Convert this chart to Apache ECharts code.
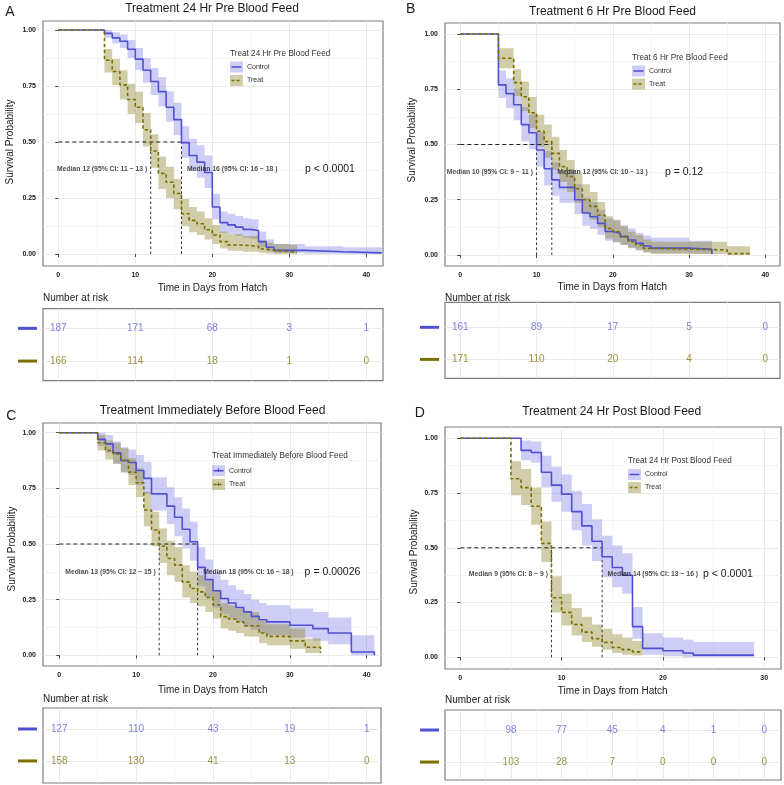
<!DOCTYPE html>
<html><head><meta charset="utf-8">
<script src="https://cdn.jsdelivr.net/npm/echarts@6/dist/echarts.min.js"></script>
<style>html,body{margin:0;padding:0;background:#fff}#c{width:784px;height:785px}</style>
</head><body><div id="c"></div>
<script>
// ---------------- DATA ----------------
// Panel A
const A_title = 'Treatment 24 Hr Pre Blood Feed';
const A_legendTitle = 'Treat 24 Hr Pre Blood Feed';
const A_ctrlTime = [0, 6, 7, 8, 9, 10, 11, 12, 13, 14, 15, 16, 17, 18, 19, 20, 21, 22, 23, 24, 25, 26, 27, 28, 32, 37, 42];
const A_ctrlSurv = [1, 0.985, 0.965, 0.95, 0.914, 0.87, 0.82, 0.77, 0.725, 0.655, 0.60, 0.497, 0.44, 0.41, 0.364, 0.21, 0.14, 0.13, 0.12, 0.11, 0.105, 0.055, 0.03, 0.016, 0.01, 0.005, 0.005];
const A_ctrlLo   = [1, 0.965, 0.94, 0.92, 0.875, 0.82, 0.765, 0.71, 0.66, 0.59, 0.53, 0.43, 0.37, 0.34, 0.295, 0.155, 0.095, 0.088, 0.08, 0.072, 0.068, 0.03, 0.012, 0.004, 0.001, 0, 0];
const A_ctrlHi   = [1, 1, 0.99, 0.98, 0.955, 0.92, 0.875, 0.83, 0.79, 0.725, 0.675, 0.57, 0.515, 0.485, 0.44, 0.27, 0.19, 0.18, 0.17, 0.16, 0.155, 0.1, 0.065, 0.045, 0.035, 0.03, 0.03];
const A_trtTime  = [0, 6, 7, 8, 9, 10, 11, 12, 13, 14, 15, 16, 17, 18, 19, 20, 21, 22, 24, 26, 27, 28, 30, 31];
const A_trtSurv  = [1, 0.865, 0.815, 0.755, 0.69, 0.655, 0.555, 0.46, 0.36, 0.32, 0.27, 0.18, 0.15, 0.135, 0.108, 0.085, 0.055, 0.04, 0.034, 0.022, 0.016, 0.012, 0.006, 0.006];
const A_trtLo    = [1, 0.81, 0.755, 0.69, 0.625, 0.585, 0.48, 0.385, 0.29, 0.25, 0.2, 0.125, 0.097, 0.085, 0.065, 0.045, 0.025, 0.015, 0.01, 0.005, 0.002, 0, 0, 0];
const A_trtHi    = [1, 0.915, 0.87, 0.82, 0.76, 0.725, 0.63, 0.535, 0.435, 0.39, 0.335, 0.245, 0.21, 0.19, 0.16, 0.13, 0.1, 0.088, 0.08, 0.06, 0.05, 0.045, 0.04, 0.04];
const A_median = [16, 12];            // control, treat
const A_medianCI = [[16, 18], [11, 13]];
const A_pText = 'p < 0.0001';
const A_riskTimes = [0, 10, 20, 30, 40];
const A_riskCtrl = [187, 171, 68, 3, 1];
const A_riskTrt  = [166, 114, 18, 1, 0];

// Panel B
const B_title = 'Treatment 6 Hr Pre Blood Feed';
const B_legendTitle = 'Treat 6 Hr Pre Blood Feed';
const B_ctrlTime = [0, 5, 6, 7, 8, 9, 10, 11, 12, 13, 15, 16, 17, 18, 19, 20, 21, 22, 23, 24, 25, 30, 33];
const B_ctrlSurv = [1, 0.77, 0.73, 0.68, 0.59, 0.553, 0.475, 0.39, 0.34, 0.306, 0.25, 0.19, 0.173, 0.143, 0.106, 0.098, 0.083, 0.068, 0.053, 0.041, 0.031, 0.026, 0.005];
const B_ctrlLo   = [1, 0.71, 0.665, 0.61, 0.515, 0.478, 0.4, 0.315, 0.268, 0.236, 0.185, 0.132, 0.118, 0.092, 0.064, 0.057, 0.045, 0.034, 0.024, 0.015, 0.01, 0.007, 0];
const B_ctrlHi   = [1, 0.835, 0.8, 0.752, 0.67, 0.635, 0.555, 0.47, 0.42, 0.385, 0.32, 0.26, 0.24, 0.205, 0.165, 0.155, 0.135, 0.12, 0.1, 0.088, 0.078, 0.065, 0.065];
const B_trtTime  = [0, 5, 7, 8, 9, 10, 11, 12, 13, 14, 15, 16, 17, 18, 19, 20, 21, 22, 23, 24, 25, 35, 38];
const B_trtSurv  = [1, 0.89, 0.78, 0.716, 0.643, 0.56, 0.513, 0.46, 0.4, 0.355, 0.3, 0.25, 0.22, 0.18, 0.12, 0.105, 0.083, 0.06, 0.045, 0.03, 0.023, 0.006, 0.006];
const B_trtLo    = [1, 0.845, 0.72, 0.65, 0.575, 0.49, 0.44, 0.385, 0.33, 0.285, 0.235, 0.19, 0.16, 0.125, 0.075, 0.06, 0.045, 0.03, 0.02, 0.01, 0.005, 0, 0];
const B_trtHi    = [1, 0.935, 0.84, 0.785, 0.715, 0.635, 0.59, 0.535, 0.475, 0.43, 0.37, 0.32, 0.285, 0.24, 0.175, 0.16, 0.13, 0.105, 0.09, 0.07, 0.06, 0.04, 0.04];
const B_median = [10, 12];
const B_medianCI = [[9, 11], [10, 13]];
const B_pText = 'p = 0.12';
const B_riskTimes = [0, 10, 20, 30, 40];
const B_riskCtrl = [161, 89, 17, 5, 0];
const B_riskTrt  = [171, 110, 20, 4, 0];

// Panel C
const C_title = 'Treatment Immediately Before Blood Feed';
const C_legendTitle = 'Treat Immediately Before Blood Feed';
const C_ctrlTime = [0, 5, 6, 7, 8, 9, 10, 11, 12, 14, 15, 16, 17, 18, 19, 20, 21, 22, 23, 24, 25, 26, 27, 30, 33, 35, 38, 41];
const C_ctrlSurv = [1, 0.97, 0.95, 0.91, 0.875, 0.866, 0.83, 0.795, 0.725, 0.67, 0.62, 0.566, 0.51, 0.395, 0.34, 0.29, 0.255, 0.235, 0.215, 0.195, 0.175, 0.16, 0.15, 0.135, 0.12, 0.1, 0.015, 0];
const C_ctrlLo   = [1, 0.94, 0.91, 0.86, 0.82, 0.81, 0.765, 0.725, 0.65, 0.59, 0.535, 0.48, 0.425, 0.31, 0.26, 0.215, 0.185, 0.165, 0.15, 0.13, 0.115, 0.1, 0.09, 0.08, 0.065, 0.05, 0, 0];
const C_ctrlHi   = [1, 1, 0.99, 0.96, 0.935, 0.925, 0.9, 0.87, 0.8, 0.755, 0.71, 0.66, 0.6, 0.485, 0.43, 0.375, 0.34, 0.315, 0.295, 0.275, 0.25, 0.235, 0.225, 0.21, 0.195, 0.17, 0.09, 0.09];
const C_trtTime  = [0, 5, 6, 7, 8, 9, 10, 11, 12, 13, 14, 15, 16, 17, 18, 19, 20, 21, 22, 23, 24, 26, 27, 30, 32, 34];
const C_trtSurv  = [1, 0.955, 0.92, 0.905, 0.875, 0.823, 0.775, 0.653, 0.563, 0.49, 0.435, 0.405, 0.33, 0.3, 0.285, 0.26, 0.226, 0.174, 0.163, 0.15, 0.133, 0.1, 0.085, 0.065, 0.036, 0.01];
const C_trtLo    = [1, 0.92, 0.88, 0.86, 0.825, 0.765, 0.71, 0.58, 0.49, 0.415, 0.36, 0.33, 0.26, 0.235, 0.22, 0.195, 0.165, 0.12, 0.11, 0.1, 0.085, 0.055, 0.045, 0.03, 0.01, 0];
const C_trtHi    = [1, 0.99, 0.965, 0.955, 0.93, 0.885, 0.84, 0.735, 0.645, 0.57, 0.515, 0.485, 0.405, 0.375, 0.36, 0.335, 0.295, 0.235, 0.225, 0.21, 0.195, 0.155, 0.14, 0.12, 0.075, 0.075];
const C_median = [18, 13];
const C_medianCI = [[16, 18], [12, 15]];
const C_pText = 'p = 0.00026';
const C_riskTimes = [0, 10, 20, 30, 40];
const C_riskCtrl = [127, 110, 43, 19, 1];
const C_riskTrt  = [158, 130, 41, 13, 0];

// Panel D
const D_title = 'Treatment 24 Hr Post Blood Feed';
const D_legendTitle = 'Treat 24 Hr Post Blood Feed';
const D_ctrlTime = [0, 6, 7, 8, 9, 10, 11, 12, 13, 14, 15, 16, 17, 18, 20, 22, 23, 29];
const D_ctrlSurv = [1, 0.945, 0.935, 0.845, 0.786, 0.745, 0.665, 0.6, 0.53, 0.459, 0.41, 0.375, 0.14, 0.041, 0.03, 0.02, 0.01, 0.01];
const D_ctrlLo   = [1, 0.9, 0.89, 0.775, 0.71, 0.665, 0.58, 0.51, 0.44, 0.365, 0.32, 0.29, 0.085, 0.012, 0.005, 0, 0, 0];
const D_ctrlHi   = [1, 0.99, 0.985, 0.92, 0.87, 0.835, 0.76, 0.7, 0.63, 0.555, 0.51, 0.475, 0.23, 0.11, 0.09, 0.08, 0.07, 0.07];
const D_trtTime  = [0, 5, 6, 7, 8, 9, 10, 11, 12, 13, 14, 15, 16, 17, 18];
const D_trtSurv  = [1, 0.815, 0.775, 0.69, 0.52, 0.272, 0.205, 0.15, 0.115, 0.085, 0.068, 0.045, 0.035, 0.025, 0.025];
const D_trtLo    = [1, 0.74, 0.695, 0.605, 0.435, 0.205, 0.145, 0.1, 0.07, 0.048, 0.035, 0.02, 0.012, 0.008, 0.008];
const D_trtHi    = [1, 0.895, 0.86, 0.775, 0.62, 0.37, 0.29, 0.225, 0.185, 0.15, 0.13, 0.105, 0.09, 0.075, 0.075];
const D_median = [14, 9];
const D_medianCI = [[13, 16], [8, 9]];
const D_pText = 'p < 0.0001';
const D_riskTimes = [5, 10, 15, 20, 25, 30];
const D_riskCtrl = [98, 77, 45, 4, 1, 0];
const D_riskTrt  = [103, 28, 7, 0, 0, 0];

const groupNames = ['Control', 'Treat'];
const yTicks = [0, 0.25, 0.5, 0.75, 1];
const yMinorTicks = [0.125, 0.375, 0.625, 0.875];

// ---------------- STYLE / LAYOUT ----------------
const FONT = '"Liberation Sans", Arial, Helvetica, sans-serif';
const BLUE = '#5050d2', OLIVE = '#7a7000';
const BLUE_FILL = 'rgba(88,88,225,0.30)', OLIVE_FILL = 'rgba(135,124,25,0.38)';
const BLUE_TXT = '#5f5fd6', OLIVE_TXT = '#837810';
const MAJ = '#e5e5e5', MIN = '#f2f2f2';

const LAYOUT = {
  A: {plot:[43,21,340,245], x:[-1.987,42.17], y:[-0.0536,1.0402], xMaj:[0,10,20,30,40], xMin:[5,15,25,35],
      table:[43,308.7,340,72], tY:[0.4,2.6], tMaj:[0,10,20,30,40], tMin:[5,15,25,35],
      legend:[230,53.3,67,80.5], title:[212,8.7], letter:[10,11.7], yTitle:[10,142], xTitle:[212.5,288],
      nar:[43,298.3], p:[330,169], medY:0.38},
  B: {plot:[445,23,335,243], x:[-2.007,41.93], y:[-0.0498,1.0498], xMaj:[0,10,20,30,40], xMin:[5,15,25,35],
      table:[445,302.3,335,76], tY:[0.22,2.59], tMaj:[0,10,20,30,40], tMin:[5,15,25,35],
      legend:[632,57.3,71,84], title:[612.5,11.7], letter:[410.7,9.3], yTitle:[412,140], xTitle:[612.3,287.3],
      nar:[445,298.3], p:[684,172], medY:0.376},
  C: {plot:[43,423,338,243], x:[-2.12,41.86], y:[-0.048,1.0436], xMaj:[0,10,20,30,40], xMin:[5,15,25,35],
      table:[43,708,338,75], tY:[0.344,2.69], tMaj:[0,10,20,30,40], tMin:[5,15,25,35],
      legend:[212,456,470.7,484.5], title:[212.5,410.3], letter:[11.3,416], yTitle:[12,549], xTitle:[212.8,690.7],
      nar:[43,699], p:[332.5,571.7], medY:0.375},
  D: {plot:[445,427,336,242], x:[-1.51,31.66], y:[-0.0534,1.0516], xMaj:[0,10,20,30], xMin:[5,15,25],
      table:[445,710,336,70], tY:[0.375,2.56], tMaj:[0,5,10,15,20,25,30], tMin:[2.5,7.5,12.5,17.5,22.5,27.5],
      legend:[628,460.7,474.5,487.5], title:[611.7,411.7], letter:[419.7,413], yTitle:[414,552], xTitle:[612.7,691.7],
      nar:[445,700.7], p:[728,574.3], medY:0.379}
};

const panels = [
  {id:'A', L:LAYOUT.A, title:A_title, legendTitle:A_legendTitle,
   ctrl:{t:A_ctrlTime,s:A_ctrlSurv,lo:A_ctrlLo,hi:A_ctrlHi}, trt:{t:A_trtTime,s:A_trtSurv,lo:A_trtLo,hi:A_trtHi},
   med:A_median, ci:A_medianCI, p:A_pText, rT:A_riskTimes, rC:A_riskCtrl, rR:A_riskTrt, plus:false},
  {id:'B', L:LAYOUT.B, title:B_title, legendTitle:B_legendTitle,
   ctrl:{t:B_ctrlTime,s:B_ctrlSurv,lo:B_ctrlLo,hi:B_ctrlHi}, trt:{t:B_trtTime,s:B_trtSurv,lo:B_trtLo,hi:B_trtHi},
   med:B_median, ci:B_medianCI, p:B_pText, rT:B_riskTimes, rC:B_riskCtrl, rR:B_riskTrt, plus:false},
  {id:'C', L:LAYOUT.C, title:C_title, legendTitle:C_legendTitle,
   ctrl:{t:C_ctrlTime,s:C_ctrlSurv,lo:C_ctrlLo,hi:C_ctrlHi}, trt:{t:C_trtTime,s:C_trtSurv,lo:C_trtLo,hi:C_trtHi},
   med:C_median, ci:C_medianCI, p:C_pText, rT:C_riskTimes, rC:C_riskCtrl, rR:C_riskTrt, plus:true},
  {id:'D', L:LAYOUT.D, title:D_title, legendTitle:D_legendTitle,
   ctrl:{t:D_ctrlTime,s:D_ctrlSurv,lo:D_ctrlLo,hi:D_ctrlHi}, trt:{t:D_trtTime,s:D_trtSurv,lo:D_trtLo,hi:D_trtHi},
   med:D_median, ci:D_medianCI, p:D_pText, rT:D_riskTimes, rC:D_riskCtrl, rR:D_riskTrt, plus:false}
];

// ---------------- BUILD ----------------
const grids = [], xAxes = [], yAxes = [], series = [], graphics = [];

function valAxis(gridIndex, range, ticks, withLabels, splitColor, extra) {
  return Object.assign({
    type:'value', gridIndex, min:range[0], max:range[1], position:'bottom',
    axisLine:{show:false},
    axisTick:{show:withLabels, customValues:ticks, length:3, lineStyle:{color:'#444', width:1}},
    axisLabel:{show:withLabels, customValues:ticks, margin:6, fontSize:7, fontWeight:'bold', color:'#1a1a1a', fontFamily:FONT},
    splitLine:{show:true, lineStyle:{color:splitColor, width:0.8}},
    minorSplitLine:{show:false}
  }, extra || {});
}

function text(x, y, str, size, o) {
  o = o || {};
  return {type:'text', x, y, rotation:o.rot || 0, silent:true, z:200,
    style:{text:str, fontSize:size, fontFamily:FONT, fill:o.color || '#1a1a1a', fontWeight:o.weight || 'normal',
           align:o.align || 'left', verticalAlign:'middle'}};
}

function bandSeries(xi, yi, c, fill) {
  return {
    type:'custom', xAxisIndex:xi, yAxisIndex:yi, silent:true, z:1, animation:false,
    data:[[c.t[0], c.s[0]]],
    renderItem(params, api) {
      const pts = [];
      for (let i = 0; i < c.t.length - 1; i++) {
        pts.push(api.coord([c.t[i], c.hi[i]]));
        pts.push(api.coord([c.t[i + 1], c.hi[i]]));
      }
      for (let i = c.t.length - 2; i >= 0; i--) {
        pts.push(api.coord([c.t[i + 1], c.lo[i]]));
        pts.push(api.coord([c.t[i], c.lo[i]]));
      }
      return {type:'polygon', shape:{points:pts}, style:{fill:fill, stroke:null}};
    }
  };
}

function curveSeries(xi, yi, c, color, dashed) {
  return {
    type:'line', xAxisIndex:xi, yAxisIndex:yi, step:'end', silent:true, animation:false, z:5,
    symbol:'none', showSymbol:false,
    data:c.t.map((x, i) => [x, c.s[i]]),
    lineStyle:{color, width:1.6, type: dashed ? [3.5, 2.5] : 'solid'}
  };
}

panels.forEach(P => {
  const L = P.L;
  const gPlot = grids.length;
  grids.push({left:L.plot[0], top:L.plot[1], width:L.plot[2], height:L.plot[3], show:true,
              backgroundColor:'#fff', borderColor:'#7c7c7c', borderWidth:1.2, containLabel:false});
  const gTab = grids.length;
  grids.push({left:L.table[0], top:L.table[1], width:L.table[2], height:L.table[3], show:true,
              backgroundColor:'#fff', borderColor:'#7c7c7c', borderWidth:1.2, containLabel:false});

  const xi = xAxes.length;
  xAxes.push(valAxis(gPlot, L.x, L.xMaj, true, MAJ));
  xAxes.push(valAxis(gPlot, L.x, L.xMin, false, MIN));
  const xt = xAxes.length;
  xAxes.push(valAxis(gTab, L.x, L.tMaj, false, MAJ));
  xAxes.push(valAxis(gTab, L.x, L.tMin, false, MIN));

  const yi = yAxes.length;
  yAxes.push(valAxis(gPlot, L.y, yTicks, true, MAJ, {position:'left',
     axisLabel:{show:true, customValues:yTicks, margin:7, fontSize:7, fontWeight:'bold', color:'#1a1a1a', fontFamily:FONT,
                formatter:v => v.toFixed(2)}}));
  yAxes.push(valAxis(gPlot, L.y, yMinorTicks, false, MIN, {position:'left'}));
  const yt = yAxes.length;
  yAxes.push(valAxis(gTab, L.tY, [1, 2], false, MAJ, {position:'left', inverse:true,
     axisLabel:{show:true, customValues:[1, 2], margin:6,
       formatter:v => v === 1 ? '{c|}' : '{t|}',
       rich:{c:{width:19, height:3, backgroundColor:BLUE}, t:{width:19, height:3, backgroundColor:OLIVE}}}}));

  // CI bands
  series.push(bandSeries(xi, yi, P.ctrl, BLUE_FILL));
  series.push(bandSeries(xi, yi, P.trt, OLIVE_FILL));

  // median reference lines
  const mMax = Math.max(P.med[0], P.med[1]);
  series.push({type:'line', xAxisIndex:xi, yAxisIndex:yi, silent:true, animation:false, z:3, symbol:'none',
    data:[[0, 0.5], [mMax, 0.5]], lineStyle:{color:'#222', width:1, type:[4, 3]}});
  P.med.forEach(m => {
    series.push({type:'line', xAxisIndex:xi, yAxisIndex:yi, silent:true, animation:false, z:3, symbol:'none',
      data:[[m, 0], [m, 0.5]], lineStyle:{color:'#333', width:1, type:[2.5, 2.5]}});
  });

  // survival curves
  series.push(curveSeries(xi, yi, P.ctrl, BLUE, false));
  series.push(curveSeries(xi, yi, P.trt, OLIVE, true));

  // median labels
  const order = P.med[0] <= P.med[1] ? [0, 1] : [1, 0];
  order.forEach((g, k) => {
    const m = P.med[g], ci = P.ci[g];
    series.push({type:'scatter', xAxisIndex:xi, yAxisIndex:yi, silent:true, animation:false, z:6,
      symbolSize:1, itemStyle:{color:'transparent'},
      data:[[m, L.medY]],
      label:{show:true, position:k === 0 ? 'left' : 'right', distance:k === 0 ? 3 : 5,
             formatter:() => 'Median ' + m + ' (95% CI: ' + ci[0] + ' \u2212 ' + ci[1] + ' )',
             fontSize:6.8, fontWeight:'bold', color:'#1a1a1a', fontFamily:FONT}});
  });

  // risk table numbers
  [[P.rC, 1, BLUE_TXT], [P.rR, 2, OLIVE_TXT]].forEach(([vals, row, col]) => {
    series.push({type:'scatter', xAxisIndex:xt, yAxisIndex:yt, silent:true, animation:false, z:6,
      symbolSize:1, itemStyle:{color:'transparent'},
      data:P.rT.map((t, i) => [t, row, vals[i]]),
      label:{show:true, position:'inside', formatter:p => String(p.value[2]), fontSize:10, color:col, fontFamily:FONT}});
  });

  // texts
  graphics.push(text(L.title[0], L.title[1], P.title, 12, {align:'center'}));
  graphics.push(text(L.letter[0], L.letter[1], P.id, 14, {align:'center'}));
  graphics.push(text(L.yTitle[0], L.yTitle[1], 'Survival Probability', 10, {align:'center', rot:Math.PI / 2}));
  graphics.push(text(L.xTitle[0], L.xTitle[1], 'Time in Days from Hatch', 10, {align:'center'}));
  graphics.push(text(L.nar[0], L.nar[1], 'Number at risk', 10, {align:'left'}));
  graphics.push(text(L.p[0], L.p[1], P.p, 10.5, {align:'center'}));

  // legend
  const lx = L.legend[0];
  graphics.push(text(lx, L.legend[1], P.legendTitle, 8.2, {align:'left', color:'#333'}));
  [[L.legend[2], BLUE_FILL, BLUE, false, groupNames[0]], [L.legend[3], OLIVE_FILL, OLIVE, true, groupNames[1]]]
    .forEach(([ly, fill, col, dashed, name]) => {
      graphics.push({type:'rect', silent:true, z:190, shape:{x:lx, y:ly - 5.5, width:13, height:11}, style:{fill}});
      graphics.push({type:'line', silent:true, z:191, shape:{x1:lx + 1.5, y1:ly, x2:lx + 11.5, y2:ly},
                     style:{stroke:col, lineWidth:1.6, lineDash:dashed ? [3, 2] : null}});
      if (P.plus) graphics.push(text(lx + 6.5, ly, '+', 8, {align:'center', color:col, weight:'bold'}));
      graphics.push(text(lx + 17, ly, name, 7, {align:'left', color:'#333'}));
    });
});

const chart = echarts.init(document.getElementById('c'), null, {renderer:'canvas', width:784, height:785});
chart.setOption({
  backgroundColor:'#ffffff',
  animation:false,
  textStyle:{fontFamily:FONT},
  grid:grids, xAxis:xAxes, yAxis:yAxes, series:series, graphic:graphics
});
</script>
</body></html>
